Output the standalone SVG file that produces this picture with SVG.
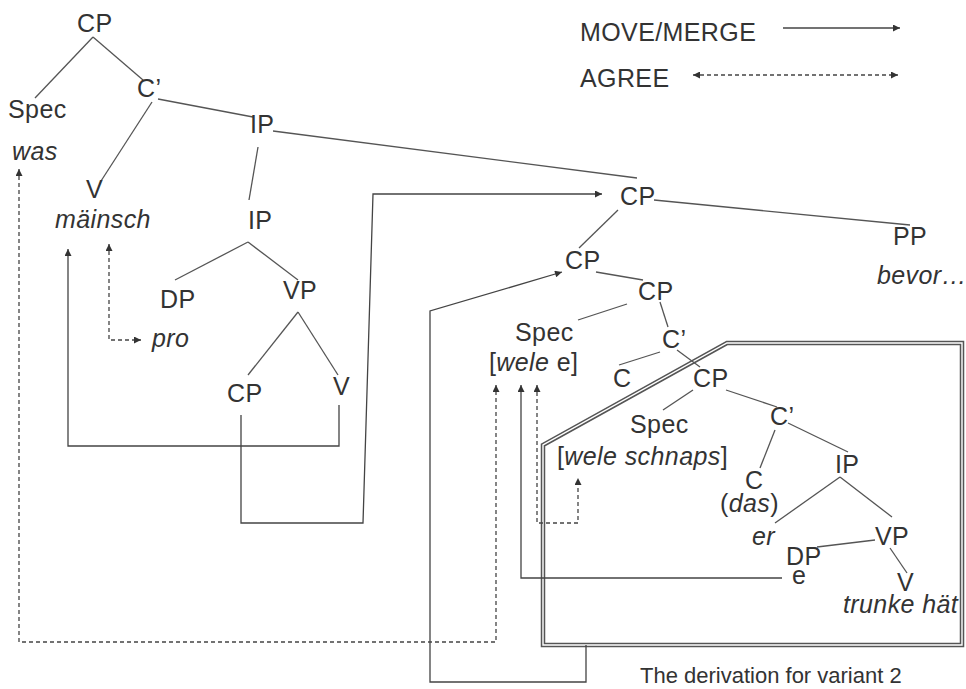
<svg xmlns="http://www.w3.org/2000/svg" width="966" height="689" viewBox="0 0 966 689">
<style>
text{font-family:"Liberation Sans",Arial,sans-serif;font-size:25px;letter-spacing:0.4px;fill:#333}
.i{font-style:italic}
.cap{font-size:22px;letter-spacing:0}
.t{stroke:#555;stroke-width:1.3;fill:none}
.m{stroke:#444;stroke-width:1.3;fill:none}
.a{stroke:#444;stroke-width:1.3;fill:none;stroke-dasharray:4 3}
.box1{stroke:#555;stroke-width:4.5;fill:none}
.box2{stroke:#fff;stroke-width:1.4;fill:none}
</style>
<defs>
<marker id="ah" viewBox="0 0 10 10" refX="10" refY="5" markerWidth="9" markerHeight="7" markerUnits="userSpaceOnUse" orient="auto-start-reverse"><path d="M0,0 L10,5 L0,10 z" fill="#333"/></marker>
</defs>
<rect width="966" height="689" fill="#fff"/>
<g id="frame">
<path class="box1" d="M543,645 V445 L727,343 H962 V645 Z"/>
<path class="box2" d="M543,645 V445 L727,343 H962 V645 Z"/>
</g>
<g id="connectors">
<g id="tree-lines">
<line class="t" x1="93" y1="37" x2="35" y2="98"/>
<line class="t" x1="93" y1="37" x2="143" y2="80"/>
<line class="t" x1="152" y1="102" x2="101" y2="181"/>
<line class="t" x1="158" y1="99" x2="253" y2="117"/>
<line class="t" x1="273" y1="131" x2="637" y2="178"/>
<line class="t" x1="258" y1="147" x2="249" y2="200"/>
<line class="t" x1="248" y1="242" x2="175" y2="280"/>
<line class="t" x1="248" y1="242" x2="298" y2="280"/>
<line class="t" x1="298" y1="312" x2="248" y2="375"/>
<line class="t" x1="298" y1="312" x2="338" y2="375"/>
<line class="t" x1="618" y1="210" x2="579" y2="248"/>
<line class="t" x1="654" y1="200" x2="910" y2="225"/>
<line class="t" x1="596" y1="272" x2="643" y2="280"/>
<line class="t" x1="627" y1="304" x2="578" y2="320"/>
<line class="t" x1="660" y1="302" x2="668" y2="327"/>
<line class="t" x1="660" y1="352" x2="619" y2="365"/>
<line class="t" x1="677" y1="350" x2="700" y2="367"/>
<line class="t" x1="693" y1="390" x2="663" y2="410"/>
<line class="t" x1="726" y1="390" x2="777" y2="407"/>
<line class="t" x1="775" y1="430" x2="760" y2="468"/>
<line class="t" x1="788" y1="423" x2="848" y2="452"/>
<line class="t" x1="840" y1="477" x2="775" y2="523"/>
<line class="t" x1="840" y1="477" x2="892" y2="517"/>
<line class="t" x1="875" y1="540" x2="817" y2="547"/>
<line class="t" x1="890" y1="548" x2="907" y2="573"/>
</g>
<g id="move-arrows">
<path class="m" d="M783,28 H900" marker-end="url(#ah)"/>
<path class="m" d="M339,405 V446 H68 V249" marker-end="url(#ah)"/>
<path class="m" d="M241,415 V523 H363 L373,194 H602" marker-end="url(#ah)"/>
<path class="m" d="M586,645 V682 H430 V311 L562,272" marker-end="url(#ah)"/>
<path class="m" d="M782,578 H521 V385" marker-end="url(#ah)"/>
</g>
<g id="agree-arrows">
<path class="a" d="M693,75 H898" marker-start="url(#ah)" marker-end="url(#ah)"/>
<path class="a" d="M109,244 V340 H141" marker-start="url(#ah)" marker-end="url(#ah)"/>
<path class="a" d="M19,169 V642 H496 V385" marker-start="url(#ah)" marker-end="url(#ah)"/>
<path class="a" d="M537,385 V523 H578 V478" marker-start="url(#ah)" marker-end="url(#ah)"/>
</g>
</g>
<g id="legend">
<text x="580" y="41">MOVE/MERGE</text>
<text x="580" y="87">AGREE</text>
</g>
<g id="n-cp1"><text x="77" y="32">CP</text></g>
<g id="n-c1"><text x="137" y="97">C’</text></g>
<g id="n-spec1"><text x="8" y="118">Spec</text><text class="i" x="12" y="160">was</text></g>
<g id="n-v1"><text x="86" y="198">V</text><text class="i" x="55" y="228">mäinsch</text></g>
<g id="n-ip1"><text x="250" y="133">IP</text></g>
<g id="n-ip2"><text x="248" y="229">IP</text></g>
<g id="n-dp1"><text x="160" y="308">DP</text></g>
<g id="n-pro"><text class="i" x="152" y="347">pro</text></g>
<g id="n-vp1"><text x="283" y="299">VP</text></g>
<g id="n-cp2"><text x="227" y="402">CP</text></g>
<g id="n-v2"><text x="333" y="395">V</text></g>
<g id="n-cp3"><text x="620" y="205">CP</text></g>
<g id="n-pp"><text x="893" y="245">PP</text><text class="i" x="877" y="284">bevor…</text></g>
<g id="n-cp4"><text x="565" y="269">CP</text></g>
<g id="n-cp5"><text x="638" y="300">CP</text></g>
<g id="n-spec2"><text x="515" y="341">Spec</text><text x="489" y="371">[<tspan class="i">wele</tspan> e]</text></g>
<g id="n-c2"><text x="662" y="348">C’</text></g>
<g id="n-c3"><text x="613" y="387">C</text></g>
<g id="n-cp6"><text x="693" y="387">CP</text></g>
<g id="n-spec3"><text x="630" y="433">Spec</text><text x="557" y="465">[<tspan class="i">wele schnaps</tspan>]</text></g>
<g id="n-c4"><text x="770" y="425">C’</text></g>
<g id="n-ip3"><text x="835" y="473">IP</text></g>
<g id="n-c5"><text x="745" y="489">C</text><text x="720" y="512">(<tspan class="i">das</tspan>)</text></g>
<g id="n-er"><text class="i" x="752" y="545">er</text></g>
<g id="n-vp2"><text x="875" y="545">VP</text></g>
<g id="n-dp2"><text x="786" y="565">DP</text><text x="792" y="584">e</text></g>
<g id="n-v3"><text x="897" y="591">V</text><text class="i" x="843" y="613">trunke hät</text></g>
<g id="caption"><text class="cap" x="640" y="683">The derivation for variant 2</text></g>
</svg>
